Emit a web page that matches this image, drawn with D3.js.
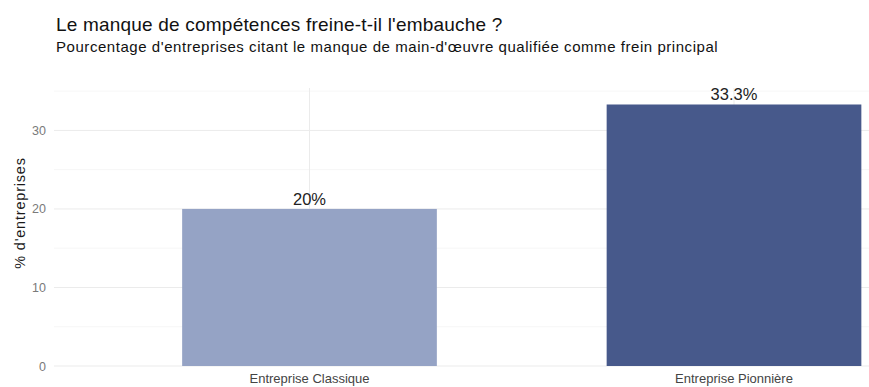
<!DOCTYPE html>
<html>
<head>
<meta charset="utf-8">
<script src="https://cdn.jsdelivr.net/npm/d3@7"></script>
<style>
  html, body { margin: 0; padding: 0; background: #fff; }
  svg { display: block; font-family: "Liberation Sans", Arial, sans-serif; }
</style>
</head>
<body>
<svg id="chart" width="869" height="387"></svg>
<script>
// Categories and values (% of firms citing lack of skilled labour)
const categories = ["Entreprise Classique", "Entreprise Pionnière"];
const values = [20, 33.3];
const valueLabels = ["20%", "33.3%"];
const barColors = ["#95a3c5", "#47598b"];
const yTicks = [0, 10, 20, 30];
const yMinorTicks = [5, 15, 25, 35];

const titleText = "Le manque de compétences freine-t-il l'embauche ?";
const subtitleText = "Pourcentage d'entreprises citant le manque de main-d'œuvre qualifiée comme frein principal";
const yTitle = "% d'entreprises";

const svg = d3.select("#chart");
const panel = { left: 54, right: 869, top: 88, bottom: 366 };

const y = d3.scaleLinear().domain([0, 35.4]).range([panel.bottom, panel.top]);
const x = d3.scaleBand()
  .domain(categories)
  .range([97.25, 946.25])
  .paddingInner(0.4)
  .paddingOuter(0.2);

// grid
const grid = svg.append("g");
grid.selectAll("line.minor").data(yMinorTicks).join("line")
  .attr("x1", panel.left).attr("x2", panel.right)
  .attr("y1", d => y(d)).attr("y2", d => y(d))
  .attr("stroke", "#f4f4f4").attr("stroke-width", 0.8);
grid.selectAll("line.major").data(yTicks).join("line")
  .attr("x1", panel.left).attr("x2", panel.right)
  .attr("y1", d => y(d)).attr("y2", d => y(d))
  .attr("stroke", "#ebebeb").attr("stroke-width", 1);
grid.selectAll("line.vx").data(categories).join("line")
  .attr("x1", d => x(d) + x.bandwidth() / 2).attr("x2", d => x(d) + x.bandwidth() / 2)
  .attr("y1", panel.top).attr("y2", panel.bottom)
  .attr("stroke", "#ebebeb").attr("stroke-width", 1);

// bars
svg.append("g").selectAll("rect").data(categories).join("rect")
  .attr("x", d => x(d))
  .attr("width", x.bandwidth())
  .attr("y", (d, i) => y(values[i]))
  .attr("height", (d, i) => y(0) - y(values[i]))
  .attr("fill", (d, i) => barColors[i]);

// value labels
svg.append("g").selectAll("text").data(categories).join("text")
  .attr("x", d => x(d) + x.bandwidth() / 2)
  .attr("y", (d, i) => y(values[i]) - 4)
  .attr("text-anchor", "middle")
  .attr("font-size", 16.5)
  .attr("fill", "#222")
  .text((d, i) => valueLabels[i]);

// y axis
const yAxis = svg.append("g")
  .attr("transform", `translate(${panel.left},0)`)
  .call(d3.axisLeft(y).tickValues(yTicks).tickSize(0).tickPadding(8));
yAxis.select(".domain").remove();
yAxis.selectAll("text").attr("font-size", 12.5).attr("fill", "#7a7a7a")
  .style("font-family", "'Liberation Sans', Arial, sans-serif");

// x axis
const xAxis = svg.append("g")
  .attr("transform", `translate(0,${panel.bottom})`)
  .call(d3.axisBottom(x).tickSize(0).tickPadding(8));
xAxis.select(".domain").remove();
xAxis.selectAll("text").attr("font-size", 13).attr("fill", "#444")
  .style("font-family", "'Liberation Sans', Arial, sans-serif");

// y title
svg.append("text")
  .attr("transform", "translate(25,213) rotate(-90)")
  .attr("text-anchor", "middle")
  .attr("font-size", 14.5)
  .attr("letter-spacing", 0.8)
  .attr("fill", "#1a1a1a")
  .text(yTitle);

// titles
svg.append("text").attr("x", 56).attr("y", 31)
  .attr("font-size", 19).attr("letter-spacing", 0.2)
  .attr("fill", "#111").text(titleText);
svg.append("text").attr("x", 56).attr("y", 52)
  .attr("font-size", 15).attr("letter-spacing", 0.55)
  .attr("fill", "#111").text(subtitleText);
</script>
</body>
</html>
